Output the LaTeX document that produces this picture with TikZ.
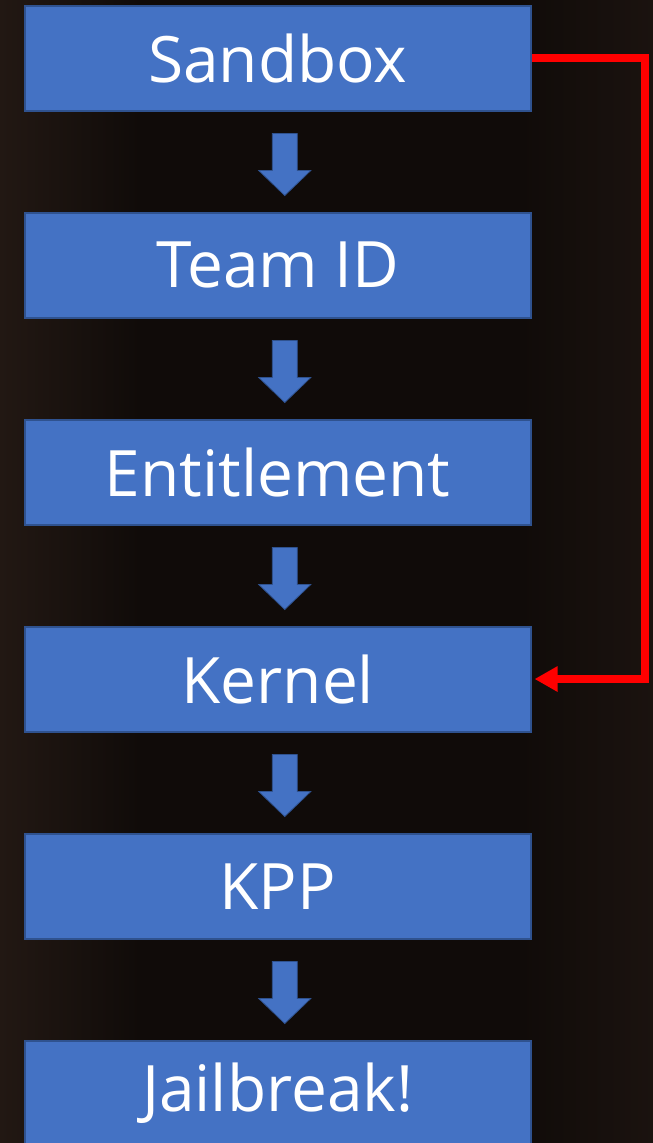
\documentclass[tikz,border=0pt]{standalone}
\usepackage{fontspec}
\setmainfont{Open Sans}
\usetikzlibrary{arrows.meta,calc}
\definecolor{bgdark}{RGB}{16,11,9}
\definecolor{bgwarm}{RGB}{34,24,19}
\definecolor{boxfill}{RGB}{68,114,196}
\definecolor{boxline}{RGB}{47,82,143}
\definecolor{linkred}{RGB}{255,0,0}
\tikzset{
  stage/.style={draw=boxline, line width=1.5pt, fill=boxfill,
    minimum width=506pt, minimum height=105pt, inner sep=0pt,
    text=white, font=\fontsize{64}{70}\selectfont, anchor=north west},
  blockarrow/.style={draw=boxline, line width=0.8pt, fill=boxfill, line join=miter},
  link/.style={draw=linkred, line width=8pt, line cap=butt,
    -{Triangle[length=23pt,width=24pt]}}
}
\begin{document}
\begin{tikzpicture}[x=1pt,y=-1pt]
  % dark backdrop, a little warmer towards the left edge
  \fill[bgdark] (0,0) rectangle (653,1143);
  \useasboundingbox (0,0) rectangle (653,1143);
  \shade[left color=bgwarm, right color=bgdark] (0,0) rectangle (140,1143);
  \shade[left color=bgdark, right color=bgwarm!60!bgdark] (520,0) rectangle (653,1143);

  % stages of the chain
  \node[stage] (sandbox) at (24,5)    {Sandbox};
  \node[stage] (team)    at (24,212)  {Team ID};
  \node[stage] (ent)     at (24,419)  {Entitlement};
  \node[stage] (kernel)  at (24,626)  {Kernel};
  \node[stage] (kpp)     at (24,833)  {KPP};
  \node[stage] (jb)      at (24,1040) {Jailbreak!};

  % block arrows between consecutive stages
  \foreach \a/\b in {sandbox/team, team/ent, ent/kernel, kernel/kpp, kpp/jb} {
    \coordinate (top-\a) at ($(\a.south)+(7,22)$);
    \draw[blockarrow] (top-\a) ++(-12.5,0) -- ++(25,0) -- ++(0,37)
      -- ++(13.5,0) -- ++(-26,25) -- ++(-26,-25) -- ++(13.5,0) -- cycle;
  }

  % shortcut from the sandbox straight to the kernel
  \coordinate (bend1) at (645,58);
  \coordinate (bend2) at (645,679);
  \draw[link] ($(sandbox.north east)+(0,53)$) -- (bend1) -- (bend2) -- ($(kernel.north east)+(3,53)$);
\end{tikzpicture}
\end{document}
